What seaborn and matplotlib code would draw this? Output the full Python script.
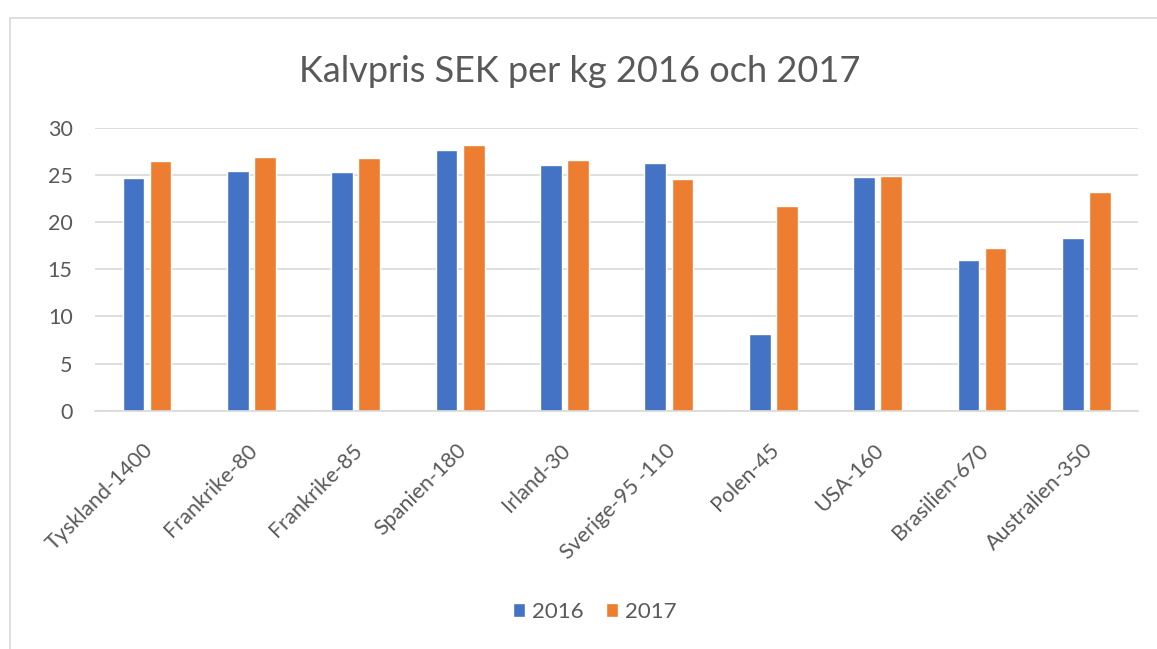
import pandas as pd
import matplotlib.pyplot as plt
import matplotlib.lines as mlines
import matplotlib.transforms as mtransforms
import seaborn as sns

categories = ['Tyskland-1400', 'Frankrike-80', 'Frankrike-85', 'Spanien-180', 'Irland-30',
              'Sverige-95 -110', 'Polen-45', 'USA-160', 'Brasilien-670', 'Australien-350']
values_2016 = [24.7, 25.4, 25.35, 27.65, 26.1, 26.3, 8.15, 24.8, 15.95, 18.35]
values_2017 = [26.45, 26.9, 26.85, 28.2, 26.6, 24.55, 21.75, 24.85, 17.3, 23.2]
years = ['2016', '2017']
y_ticks = [0, 5, 10, 15, 20, 25, 30]

df = pd.DataFrame({
    'Land': categories * 2,
    'Pris': values_2016 + values_2017,
    'År': [years[0]] * len(categories) + [years[1]] * len(categories),
})

sns.set_style('white')
plt.rcParams['font.family'] = ['Lato', 'DejaVu Sans']

text_grey = '#595959'
grid_grey = '#D9D9D9'

fig = plt.figure(figsize=(11.57, 6.49), dpi=100)
ax = fig.add_axes([0.082, 0.367, 0.902, 0.436])

sns.barplot(data=df, x='Land', y='Pris', hue='År', hue_order=years,
            palette=['#4472C4', '#ED7D31'], width=0.52, gap=0.2,
            saturation=1, ax=ax, legend=True)

ax.set_ylim(0, 30)
ax.set_xlim(-0.5, len(categories) - 0.5)
ax.set_yticks(y_ticks)
ax.set_xlabel('')
ax.set_ylabel('')
ax.yaxis.grid(True, color=grid_grey, linewidth=1.2)
ax.set_axisbelow(True)
for side in ['top', 'right', 'left']:
    ax.spines[side].set_visible(False)
ax.spines['bottom'].set_color(grid_grey)
ax.spines['bottom'].set_linewidth(1.2)
ax.tick_params(axis='both', length=0, colors=text_grey)
ax.tick_params(axis='y', pad=16, labelsize=15.5)
ax.tick_params(axis='x', pad=21, labelsize=15.5)
shift = mtransforms.ScaledTranslation(-4 / 100, 0, fig.dpi_scale_trans)
for lbl in ax.get_xticklabels():
    lbl.set_rotation(45)
    lbl.set_ha('right')
    lbl.set_va('top')
    lbl.set_rotation_mode('anchor')
    lbl.set_transform(lbl.get_transform() + shift)

fig.text(0.501, 1 - 72 / 649, 'Kalvpris SEK per kg 2016 och 2017', ha='center', va='center',
         fontsize=26, color=text_grey)

handles, labels = ax.get_legend_handles_labels()
ax.get_legend().remove()
leg = fig.legend(handles, labels, loc='center', bbox_to_anchor=(0.514, 1 - 612 / 649), ncol=2,
                 frameon=False, fontsize=16, handlelength=0.55, handleheight=0.55,
                 handletextpad=0.3, columnspacing=1.0)
for t in leg.get_texts():
    t.set_color(text_grey)

# chart area border (top and left only visible in the source)
fig.add_artist(mlines.Line2D([10 / 1157, 1], [1 - 18 / 649, 1 - 18 / 649], color='#D9D9D9',
                             linewidth=1.2, transform=fig.transFigure))
fig.add_artist(mlines.Line2D([10 / 1157, 10 / 1157], [0, 1 - 18 / 649], color='#D9D9D9',
                             linewidth=1.2, transform=fig.transFigure))

fig.savefig('out.png', dpi=100)
